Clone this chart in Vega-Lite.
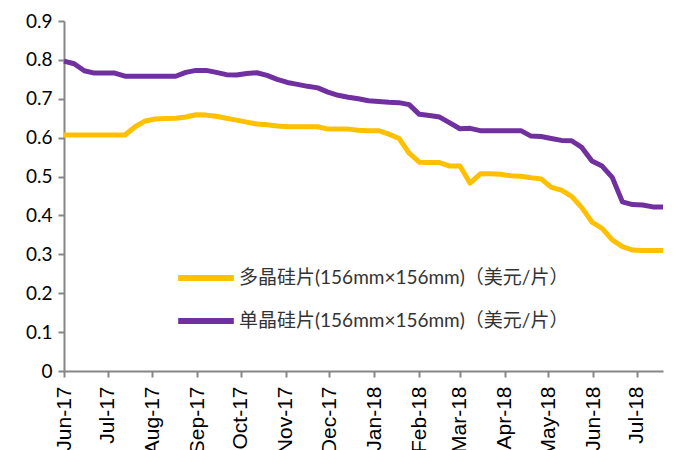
{
  "$schema": "https://vega.github.io/schema/vega-lite/v6.json",
  "width": 599,
  "height": 350,
  "autosize": "none",
  "padding": {"left": 64, "top": 21, "right": 10, "bottom": 79},
  "background": "white",
  "config": {"view": {"stroke": null}},
  "data": {
    "values": [
      {"date":"2017-06-01","s":"多晶硅片(156mm×156mm)（美元/片）","v":0.607},
      {"date":"2017-06-08","s":"多晶硅片(156mm×156mm)（美元/片）","v":0.607},
      {"date":"2017-06-15","s":"多晶硅片(156mm×156mm)（美元/片）","v":0.607},
      {"date":"2017-06-22","s":"多晶硅片(156mm×156mm)（美元/片）","v":0.607},
      {"date":"2017-06-29","s":"多晶硅片(156mm×156mm)（美元/片）","v":0.607},
      {"date":"2017-07-06","s":"多晶硅片(156mm×156mm)（美元/片）","v":0.607},
      {"date":"2017-07-13","s":"多晶硅片(156mm×156mm)（美元/片）","v":0.607},
      {"date":"2017-07-20","s":"多晶硅片(156mm×156mm)（美元/片）","v":0.628},
      {"date":"2017-07-27","s":"多晶硅片(156mm×156mm)（美元/片）","v":0.643},
      {"date":"2017-08-03","s":"多晶硅片(156mm×156mm)（美元/片）","v":0.648},
      {"date":"2017-08-10","s":"多晶硅片(156mm×156mm)（美元/片）","v":0.649},
      {"date":"2017-08-17","s":"多晶硅片(156mm×156mm)（美元/片）","v":0.65},
      {"date":"2017-08-24","s":"多晶硅片(156mm×156mm)（美元/片）","v":0.653},
      {"date":"2017-08-31","s":"多晶硅片(156mm×156mm)（美元/片）","v":0.659},
      {"date":"2017-09-07","s":"多晶硅片(156mm×156mm)（美元/片）","v":0.658},
      {"date":"2017-09-14","s":"多晶硅片(156mm×156mm)（美元/片）","v":0.655},
      {"date":"2017-09-21","s":"多晶硅片(156mm×156mm)（美元/片）","v":0.65},
      {"date":"2017-09-28","s":"多晶硅片(156mm×156mm)（美元/片）","v":0.645},
      {"date":"2017-10-05","s":"多晶硅片(156mm×156mm)（美元/片）","v":0.64},
      {"date":"2017-10-12","s":"多晶硅片(156mm×156mm)（美元/片）","v":0.635},
      {"date":"2017-10-19","s":"多晶硅片(156mm×156mm)（美元/片）","v":0.633},
      {"date":"2017-10-26","s":"多晶硅片(156mm×156mm)（美元/片）","v":0.63},
      {"date":"2017-11-02","s":"多晶硅片(156mm×156mm)（美元/片）","v":0.628},
      {"date":"2017-11-09","s":"多晶硅片(156mm×156mm)（美元/片）","v":0.628},
      {"date":"2017-11-16","s":"多晶硅片(156mm×156mm)（美元/片）","v":0.628},
      {"date":"2017-11-23","s":"多晶硅片(156mm×156mm)（美元/片）","v":0.628},
      {"date":"2017-11-30","s":"多晶硅片(156mm×156mm)（美元/片）","v":0.622},
      {"date":"2017-12-07","s":"多晶硅片(156mm×156mm)（美元/片）","v":0.622},
      {"date":"2017-12-14","s":"多晶硅片(156mm×156mm)（美元/片）","v":0.622},
      {"date":"2017-12-21","s":"多晶硅片(156mm×156mm)（美元/片）","v":0.619},
      {"date":"2017-12-28","s":"多晶硅片(156mm×156mm)（美元/片）","v":0.618},
      {"date":"2018-01-04","s":"多晶硅片(156mm×156mm)（美元/片）","v":0.618},
      {"date":"2018-01-11","s":"多晶硅片(156mm×156mm)（美元/片）","v":0.609},
      {"date":"2018-01-18","s":"多晶硅片(156mm×156mm)（美元/片）","v":0.598},
      {"date":"2018-01-25","s":"多晶硅片(156mm×156mm)（美元/片）","v":0.56},
      {"date":"2018-02-01","s":"多晶硅片(156mm×156mm)（美元/片）","v":0.537},
      {"date":"2018-02-08","s":"多晶硅片(156mm×156mm)（美元/片）","v":0.536},
      {"date":"2018-02-15","s":"多晶硅片(156mm×156mm)（美元/片）","v":0.536},
      {"date":"2018-02-22","s":"多晶硅片(156mm×156mm)（美元/片）","v":0.527},
      {"date":"2018-03-01","s":"多晶硅片(156mm×156mm)（美元/片）","v":0.527},
      {"date":"2018-03-08","s":"多晶硅片(156mm×156mm)（美元/片）","v":0.483},
      {"date":"2018-03-15","s":"多晶硅片(156mm×156mm)（美元/片）","v":0.507},
      {"date":"2018-03-22","s":"多晶硅片(156mm×156mm)（美元/片）","v":0.507},
      {"date":"2018-03-29","s":"多晶硅片(156mm×156mm)（美元/片）","v":0.506},
      {"date":"2018-04-05","s":"多晶硅片(156mm×156mm)（美元/片）","v":0.502},
      {"date":"2018-04-12","s":"多晶硅片(156mm×156mm)（美元/片）","v":0.501},
      {"date":"2018-04-19","s":"多晶硅片(156mm×156mm)（美元/片）","v":0.497},
      {"date":"2018-04-26","s":"多晶硅片(156mm×156mm)（美元/片）","v":0.494},
      {"date":"2018-05-03","s":"多晶硅片(156mm×156mm)（美元/片）","v":0.472},
      {"date":"2018-05-10","s":"多晶硅片(156mm×156mm)（美元/片）","v":0.465},
      {"date":"2018-05-17","s":"多晶硅片(156mm×156mm)（美元/片）","v":0.449},
      {"date":"2018-05-24","s":"多晶硅片(156mm×156mm)（美元/片）","v":0.42},
      {"date":"2018-05-31","s":"多晶硅片(156mm×156mm)（美元/片）","v":0.383},
      {"date":"2018-06-07","s":"多晶硅片(156mm×156mm)（美元/片）","v":0.367},
      {"date":"2018-06-14","s":"多晶硅片(156mm×156mm)（美元/片）","v":0.337},
      {"date":"2018-06-21","s":"多晶硅片(156mm×156mm)（美元/片）","v":0.32},
      {"date":"2018-06-28","s":"多晶硅片(156mm×156mm)（美元/片）","v":0.311},
      {"date":"2018-07-05","s":"多晶硅片(156mm×156mm)（美元/片）","v":0.31},
      {"date":"2018-07-12","s":"多晶硅片(156mm×156mm)（美元/片）","v":0.31},
      {"date":"2018-07-19","s":"多晶硅片(156mm×156mm)（美元/片）","v":0.31},
      {"date":"2017-06-01","s":"单晶硅片(156mm×156mm)（美元/片）","v":0.797},
      {"date":"2017-06-08","s":"单晶硅片(156mm×156mm)（美元/片）","v":0.79},
      {"date":"2017-06-15","s":"单晶硅片(156mm×156mm)（美元/片）","v":0.772},
      {"date":"2017-06-22","s":"单晶硅片(156mm×156mm)（美元/片）","v":0.766},
      {"date":"2017-06-29","s":"单晶硅片(156mm×156mm)（美元/片）","v":0.766},
      {"date":"2017-07-06","s":"单晶硅片(156mm×156mm)（美元/片）","v":0.766},
      {"date":"2017-07-13","s":"单晶硅片(156mm×156mm)（美元/片）","v":0.758},
      {"date":"2017-07-20","s":"单晶硅片(156mm×156mm)（美元/片）","v":0.758},
      {"date":"2017-07-27","s":"单晶硅片(156mm×156mm)（美元/片）","v":0.758},
      {"date":"2017-08-03","s":"单晶硅片(156mm×156mm)（美元/片）","v":0.758},
      {"date":"2017-08-10","s":"单晶硅片(156mm×156mm)（美元/片）","v":0.758},
      {"date":"2017-08-17","s":"单晶硅片(156mm×156mm)（美元/片）","v":0.758},
      {"date":"2017-08-24","s":"单晶硅片(156mm×156mm)（美元/片）","v":0.768},
      {"date":"2017-08-31","s":"单晶硅片(156mm×156mm)（美元/片）","v":0.773},
      {"date":"2017-09-07","s":"单晶硅片(156mm×156mm)（美元/片）","v":0.773},
      {"date":"2017-09-14","s":"单晶硅片(156mm×156mm)（美元/片）","v":0.768},
      {"date":"2017-09-21","s":"单晶硅片(156mm×156mm)（美元/片）","v":0.762},
      {"date":"2017-09-28","s":"单晶硅片(156mm×156mm)（美元/片）","v":0.761},
      {"date":"2017-10-05","s":"单晶硅片(156mm×156mm)（美元/片）","v":0.765},
      {"date":"2017-10-12","s":"单晶硅片(156mm×156mm)（美元/片）","v":0.767},
      {"date":"2017-10-19","s":"单晶硅片(156mm×156mm)（美元/片）","v":0.76},
      {"date":"2017-10-26","s":"单晶硅片(156mm×156mm)（美元/片）","v":0.75},
      {"date":"2017-11-02","s":"单晶硅片(156mm×156mm)（美元/片）","v":0.742},
      {"date":"2017-11-09","s":"单晶硅片(156mm×156mm)（美元/片）","v":0.737},
      {"date":"2017-11-16","s":"单晶硅片(156mm×156mm)（美元/片）","v":0.732},
      {"date":"2017-11-23","s":"单晶硅片(156mm×156mm)（美元/片）","v":0.728},
      {"date":"2017-11-30","s":"单晶硅片(156mm×156mm)（美元/片）","v":0.717},
      {"date":"2017-12-07","s":"单晶硅片(156mm×156mm)（美元/片）","v":0.709},
      {"date":"2017-12-14","s":"单晶硅片(156mm×156mm)（美元/片）","v":0.704},
      {"date":"2017-12-21","s":"单晶硅片(156mm×156mm)（美元/片）","v":0.7},
      {"date":"2017-12-28","s":"单晶硅片(156mm×156mm)（美元/片）","v":0.695},
      {"date":"2018-01-04","s":"单晶硅片(156mm×156mm)（美元/片）","v":0.693},
      {"date":"2018-01-11","s":"单晶硅片(156mm×156mm)（美元/片）","v":0.691},
      {"date":"2018-01-18","s":"单晶硅片(156mm×156mm)（美元/片）","v":0.69},
      {"date":"2018-01-25","s":"单晶硅片(156mm×156mm)（美元/片）","v":0.685},
      {"date":"2018-02-01","s":"单晶硅片(156mm×156mm)（美元/片）","v":0.66},
      {"date":"2018-02-08","s":"单晶硅片(156mm×156mm)（美元/片）","v":0.657},
      {"date":"2018-02-15","s":"单晶硅片(156mm×156mm)（美元/片）","v":0.653},
      {"date":"2018-02-22","s":"单晶硅片(156mm×156mm)（美元/片）","v":0.638},
      {"date":"2018-03-01","s":"单晶硅片(156mm×156mm)（美元/片）","v":0.623},
      {"date":"2018-03-08","s":"单晶硅片(156mm×156mm)（美元/片）","v":0.624},
      {"date":"2018-03-15","s":"单晶硅片(156mm×156mm)（美元/片）","v":0.618},
      {"date":"2018-03-22","s":"单晶硅片(156mm×156mm)（美元/片）","v":0.618},
      {"date":"2018-03-29","s":"单晶硅片(156mm×156mm)（美元/片）","v":0.618},
      {"date":"2018-04-05","s":"单晶硅片(156mm×156mm)（美元/片）","v":0.618},
      {"date":"2018-04-12","s":"单晶硅片(156mm×156mm)（美元/片）","v":0.618},
      {"date":"2018-04-19","s":"单晶硅片(156mm×156mm)（美元/片）","v":0.604},
      {"date":"2018-04-26","s":"单晶硅片(156mm×156mm)（美元/片）","v":0.603},
      {"date":"2018-05-03","s":"单晶硅片(156mm×156mm)（美元/片）","v":0.598},
      {"date":"2018-05-10","s":"单晶硅片(156mm×156mm)（美元/片）","v":0.593},
      {"date":"2018-05-17","s":"单晶硅片(156mm×156mm)（美元/片）","v":0.592},
      {"date":"2018-05-24","s":"单晶硅片(156mm×156mm)（美元/片）","v":0.575},
      {"date":"2018-05-31","s":"单晶硅片(156mm×156mm)（美元/片）","v":0.54},
      {"date":"2018-06-07","s":"单晶硅片(156mm×156mm)（美元/片）","v":0.527},
      {"date":"2018-06-14","s":"单晶硅片(156mm×156mm)（美元/片）","v":0.498},
      {"date":"2018-06-21","s":"单晶硅片(156mm×156mm)（美元/片）","v":0.435},
      {"date":"2018-06-28","s":"单晶硅片(156mm×156mm)（美元/片）","v":0.428},
      {"date":"2018-07-05","s":"单晶硅片(156mm×156mm)（美元/片）","v":0.427},
      {"date":"2018-07-12","s":"单晶硅片(156mm×156mm)（美元/片）","v":0.422},
      {"date":"2018-07-19","s":"单晶硅片(156mm×156mm)（美元/片）","v":0.422}
    ]
  },
  "mark": {"type": "line", "strokeWidth": 5, "strokeJoin": "round", "strokeCap": "butt"},
  "encoding": {
    "x": {
      "field": "date",
      "type": "temporal",
      "scale": {"type": "utc", "domain": [{"year": 2017, "month": 6, "date": 1, "utc": true}, {"year": 2018, "month": 7, "date": 19, "utc": true}], "nice": false},
      "axis": {
        "title": null,
        "grid": false,
        "labelExpr": "utcFormat(datum.value, '%b-%y')",
        "values": [
          {"year": 2017, "month": 6, "date": 1, "utc": true},
          {"year": 2017, "month": 7, "date": 1, "utc": true},
          {"year": 2017, "month": 8, "date": 1, "utc": true},
          {"year": 2017, "month": 9, "date": 1, "utc": true},
          {"year": 2017, "month": 10, "date": 1, "utc": true},
          {"year": 2017, "month": 11, "date": 1, "utc": true},
          {"year": 2017, "month": 12, "date": 1, "utc": true},
          {"year": 2018, "month": 1, "date": 1, "utc": true},
          {"year": 2018, "month": 2, "date": 1, "utc": true},
          {"year": 2018, "month": 3, "date": 1, "utc": true},
          {"year": 2018, "month": 4, "date": 1, "utc": true},
          {"year": 2018, "month": 5, "date": 1, "utc": true},
          {"year": 2018, "month": 6, "date": 1, "utc": true},
          {"year": 2018, "month": 7, "date": 1, "utc": true}
        ],
        "labelAngle": -90,
        "labelAlign": "right",
        "labelBaseline": "middle",
        "labelFont": "Liberation Sans",
        "labelFontSize": 21,
        "labelColor": "#000000",
        "labelPadding": 9,
        "labelOverlap": false,
        "labelFlush": false,
        "domainColor": "#868686",
        "domainWidth": 2,
        "tickColor": "#868686",
        "tickWidth": 2,
        "tickSize": 6
      }
    },
    "y": {
      "field": "v",
      "type": "quantitative",
      "scale": {"domain": [0, 0.9], "nice": false, "zero": true},
      "axis": {
        "title": null,
        "grid": false,
        "values": [0, 0.1, 0.2, 0.3, 0.4, 0.5, 0.6, 0.7, 0.8, 0.9],
        "format": ".1~f",
        "labelFont": "Lato",
        "labelFontSize": 19,
        "labelColor": "#000000",
        "labelPadding": 6,
        "domainColor": "#868686",
        "domainWidth": 2,
        "tickColor": "#868686",
        "tickWidth": 2,
        "tickSize": 6
      }
    },
    "color": {
      "field": "s",
      "type": "nominal",
      "sort": ["多晶硅片(156mm×156mm)（美元/片）", "单晶硅片(156mm×156mm)（美元/片）"],
      "scale": {"domain": ["多晶硅片(156mm×156mm)（美元/片）", "单晶硅片(156mm×156mm)（美元/片）"], "range": ["#FFC000", "#7030A0"]},
      "legend": {
        "title": null,
        "orient": "none",
        "legendX": 111,
        "legendY": 226,
        "symbolType": "stroke",
        "symbolSize": 3100,
        "symbolStrokeWidth": 6,
        "labelFont": "Lato, Noto Sans CJK SC",
        "labelFontSize": 19,
        "labelColor": "#333333",
        "labelOffset": 2,
        "rowPadding": -22,
        "labelLimit": 500
      }
    }
  }
}
